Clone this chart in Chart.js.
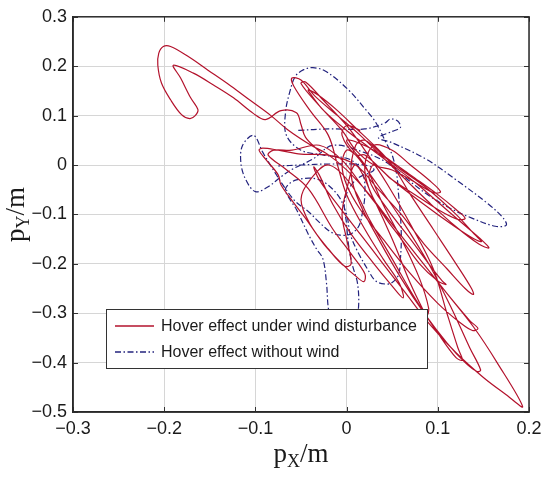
<!DOCTYPE html>
<html>
<head>
<meta charset="utf-8">
<script src="https://cdn.jsdelivr.net/npm/chart.js@4.4.0/dist/chart.umd.min.js"></script>
<style>html,body{margin:0;background:#fff}</style>
</head>
<body>
<canvas id="c" width="550" height="477"></canvas>
<script>
// axis ticks
const xTicks = [-0.3, -0.2, -0.1, 0, 0.1, 0.2];
const yTicks = [-0.5, -0.4, -0.3, -0.2, -0.1, 0, 0.1, 0.2, 0.3];

const seriesNames = ["Hover effect under wind disturbance", "Hover effect without wind"];

// trajectory under wind (x, y in m)
const windPath = [
  [-0.029,0.026],[-0.045,0.056],[-0.050,0.082],[-0.055,0.106],[-0.072,0.110],[-0.089,0.092],[-0.102,0.104],[-0.124,0.136],[-0.146,0.162],[-0.168,0.186],[-0.190,0.202],
  [-0.182,0.176],[-0.171,0.136],[-0.163,0.112],[-0.166,0.100],[-0.172,0.094],[-0.181,0.102],[-0.193,0.132],[-0.203,0.166],[-0.207,0.202],[-0.206,0.226],[-0.201,0.240],[-0.193,0.240],
  [-0.174,0.220],[-0.152,0.192],[-0.127,0.160],[-0.105,0.130],[-0.083,0.100],[-0.065,0.072],[-0.039,0.040],[-0.021,0.022],
  [0.0,-0.01],[0.025,-0.06],[0.05,-0.12],[0.08,-0.19],[0.11,-0.26],[0.14,-0.33],[0.165,-0.40],[0.193,-0.489],
  [0.175,-0.465],[0.15,-0.43],[0.12,-0.38],[0.09,-0.32],[0.065,-0.26],[0.04,-0.20],[0.015,-0.14],[-0.01,-0.08],[-0.03,-0.03],[-0.036,-0.004],
  [-0.03,-0.02],[-0.015,-0.08],[0.005,-0.14],[0.03,-0.20],[0.05,-0.245],[0.062,-0.269],[0.058,-0.24],[0.04,-0.19],[0.02,-0.13],[0.0,-0.06],[-0.01,0.0],[-0.02,0.06],
  [-0.04,0.11],[-0.058,0.160],[-0.060,0.176],[-0.050,0.172],[-0.035,0.14],[-0.01,0.10],[0.015,0.06],[0.04,0.015],[0.065,-0.03],[0.09,-0.075],[0.12,-0.125],[0.145,-0.16],[0.156,-0.168],[0.15,-0.155],[0.125,-0.115],[0.10,-0.075],[0.075,-0.035],[0.05,0.0],[0.025,0.035],
  [0.0,0.07],[-0.025,0.11],[-0.040,0.145],[-0.042,0.152],[-0.030,0.140],[-0.010,0.11],[0.01,0.075],[0.03,0.04],[0.05,0.0],[0.07,-0.06],[0.095,-0.13],[0.12,-0.20],[0.137,-0.25],[0.139,-0.262],[0.13,-0.25],[0.11,-0.21],[0.085,-0.16],[0.06,-0.10],[0.035,-0.05],[0.01,0.0],
  [-0.02,0.02],[-0.05,0.022],[-0.075,0.03],[-0.092,0.034],[-0.096,0.030],[-0.088,0.010],[-0.075,-0.02],[-0.072,-0.04],[-0.059,-0.074],[-0.045,-0.108],[-0.025,-0.16],[-0.005,-0.20],[0.01,-0.225],[0.019,-0.236],[0.02,-0.22],[0.005,-0.18],[-0.015,-0.13],[-0.042,-0.048],[-0.067,-0.008],[-0.086,0.020],[-0.08,0.03],[-0.06,0.03],
  [-0.03,0.04],[-0.005,0.01],[0.02,-0.05],[0.05,-0.12],[0.08,-0.19],[0.11,-0.26],[0.135,-0.315],[0.144,-0.331],[0.138,-0.335],[0.125,-0.32],[0.10,-0.28],[0.07,-0.22],[0.04,-0.15],[0.015,-0.09],[0.0,-0.04],[-0.005,0.0],
  [0.0,0.03],[0.01,0.02],[0.03,-0.03],[0.06,-0.11],[0.09,-0.20],[0.115,-0.29],[0.135,-0.37],[0.147,-0.415],[0.143,-0.418],[0.13,-0.40],[0.11,-0.36],[0.085,-0.30],[0.06,-0.23],[0.035,-0.15],[0.015,-0.08],[0.005,-0.02],[0.01,0.04],
  [0.02,0.05],[0.04,0.02],[0.07,-0.02],[0.1,-0.06],[0.12,-0.09],[0.13,-0.108],[0.122,-0.11],[0.10,-0.09],[0.075,-0.06],[0.05,-0.03],[0.03,0.0],
  [0.025,-0.03],[0.045,-0.09],[0.07,-0.15],[0.09,-0.20],[0.105,-0.235],[0.109,-0.242],[0.1,-0.235],[0.08,-0.20],[0.06,-0.15],[0.04,-0.10],[0.025,-0.05],[0.02,0.0],
  [0.03,0.04],[0.05,0.03],[0.07,0.0],[0.09,-0.03],[0.103,-0.054],[0.095,-0.056],[0.075,-0.035],[0.05,-0.01],[0.03,0.0],
  [0.01,0.03],[-0.005,0.07],[-0.03,0.12],[-0.05,0.165],[-0.045,0.168],[-0.025,0.13],[0.0,0.08],[0.02,0.03],[0.045,-0.04],[0.07,-0.12],[0.095,-0.21],[0.11,-0.30],[0.122,-0.37],[0.127,-0.395],[0.12,-0.39],[0.1,-0.34],[0.075,-0.27],[0.05,-0.19],[0.025,-0.11],[0.005,-0.04],
  [-0.02,0.0],[-0.04,-0.03],[-0.05,-0.07],[-0.04,-0.12],[-0.02,-0.17],[-0.002,-0.205],[0.005,-0.2],[0.0,-0.15],[-0.005,-0.1],[0.0,-0.05],
  [0.01,0.0],[0.03,-0.07],[0.05,-0.15],[0.07,-0.24],[0.083,-0.29],[0.088,-0.305],[0.09,-0.29],[0.08,-0.23],[0.06,-0.15],[0.04,-0.08],[0.02,0.0],
  [0.0,0.05],[0.03,0.03],[0.06,-0.01],[0.09,-0.05],[0.12,-0.1],[0.14,-0.14],[0.148,-0.155],[0.14,-0.15],[0.115,-0.12],[0.085,-0.08],[0.05,-0.03],[0.02,0.02],
  [0.01,0.02],[-0.005,0.06],[0.0,0.08],[0.015,0.07]
];

// trajectory without wind
const calmPath = [
  [-0.053,0.070],[-0.02,0.073],[0.02,0.073],[0.042,0.085],[0.048,0.093],[0.056,0.089],[0.059,0.076],[0.05,0.068],[0.035,0.055],
  [0.05,0.045],[0.087,0.012],[0.123,-0.034],[0.156,-0.080],[0.172,-0.108],[0.175,-0.122],[0.163,-0.124],[0.138,-0.108],[0.114,-0.088],[0.092,-0.064],[0.07,-0.034],[0.043,0.006],[0.02,0.025],[-0.015,0.040],
  [-0.037,0.012],[-0.059,-0.008],[-0.072,-0.024],[-0.086,-0.044],[-0.100,-0.054],[-0.111,-0.028],[-0.116,0.006],[-0.114,0.040],[-0.102,0.060],[-0.092,0.026],[-0.081,-0.008],[-0.067,-0.048],[-0.056,-0.074],[-0.042,-0.094],[-0.031,-0.114],[-0.018,-0.135],[-0.007,-0.142],[0.004,-0.14],[0.013,-0.125],[0.017,-0.10],[0.02,-0.06],[0.018,-0.02],[0.005,0.01],[-0.025,0.02],[-0.05,0.03],
  [-0.066,0.06],[-0.067,0.106],[-0.062,0.15],[-0.056,0.180],[-0.047,0.193],[-0.037,0.197],[-0.023,0.19],[0.002,0.152],[0.021,0.112],[0.032,0.086],[0.043,0.046],[0.05,0.02],[0.055,-0.02],[0.057,-0.06],[0.059,-0.10],[0.06,-0.15],[0.059,-0.19],[0.057,-0.222],[0.05,-0.238],[0.043,-0.241],[0.032,-0.235],[0.024,-0.214],[0.012,-0.175],[0.004,-0.14],
  [0.0,-0.10],[-0.01,-0.06],[-0.03,-0.03],[-0.055,-0.03],[-0.067,-0.048],[-0.062,-0.07],[-0.055,-0.09],[-0.042,-0.14],[-0.033,-0.17],[-0.026,-0.19],[-0.022,-0.24],[-0.02,-0.29],[-0.015,-0.33],[-0.003,-0.36],[0.008,-0.34],[0.013,-0.29],[0.012,-0.24],[0.006,-0.2],[0.002,-0.16],[0.0,-0.12],[-0.002,-0.07],[0.01,-0.03],[0.03,-0.01],
  [0.02,0.0],[-0.02,0.002],[-0.05,0.0],[-0.075,-0.002]
];

const fmt = v => Math.abs(v) < 1e-9 ? "0" : v.toFixed(1).replace("-", "\u2212");
const tickFont = { family: "'Liberation Sans', Arial, sans-serif", size: 18 };

const framePlugin = {
  id: "frame",
  afterDatasetsDraw(chart) {
    const { ctx, chartArea: a, scales } = chart;
    ctx.save();
    // inward tick marks
    ctx.strokeStyle = "#333";
    ctx.lineWidth = 1;
    yTicks.forEach(v => {
      const y = Math.round(scales.y.getPixelForValue(v)) + 0.5;
      ctx.beginPath(); ctx.moveTo(a.right - 5, y); ctx.lineTo(a.right, y); ctx.stroke();
      ctx.beginPath(); ctx.moveTo(a.left, y); ctx.lineTo(a.left + 5, y); ctx.stroke();
    });
    xTicks.forEach(v => {
      const x = Math.round(scales.x.getPixelForValue(v)) + 0.5;
      ctx.beginPath(); ctx.moveTo(x, a.bottom - 5); ctx.lineTo(x, a.bottom); ctx.stroke();
      ctx.beginPath(); ctx.moveTo(x, a.top); ctx.lineTo(x, a.top + 5); ctx.stroke();
    });
    // box
    ctx.lineWidth = 1.5;
    ctx.strokeStyle = "#2a2a2a";
    ctx.strokeRect(a.left, a.top, a.right - a.left, a.bottom - a.top);

    // legend
    const lx = 106.5, ly = 309.5, lw = 321, lh = 59;
    ctx.fillStyle = "#fff";
    ctx.fillRect(lx, ly, lw, lh);
    ctx.lineWidth = 1;
    ctx.strokeStyle = "#333";
    ctx.strokeRect(lx, ly, lw, lh);
    const ds = chart.data.datasets;
    [326, 352].forEach((y, i) => {
      ctx.strokeStyle = ds[i].borderColor;
      ctx.lineWidth = 1.4;
      ctx.setLineDash(ds[i].borderDash || []);
      ctx.beginPath(); ctx.moveTo(115, y); ctx.lineTo(154, y); ctx.stroke();
      ctx.setLineDash([]);
      ctx.fillStyle = "#1a1a1a";
      ctx.font = "16px 'Liberation Sans', Arial, sans-serif";
      ctx.textBaseline = "middle";
      ctx.textAlign = "left";
      ctx.fillText(ds[i].label, 161, y + 1);
    });

    // axis titles with subscripts
    const drawTitle = (sub) => {
      ctx.fillStyle = "#1a1a1a";
      ctx.textBaseline = "alphabetic";
      ctx.textAlign = "left";
      const big = "27px 'Liberation Serif', 'Times New Roman', serif";
      const small = "18px 'Liberation Serif', 'Times New Roman', serif";
      ctx.font = big; const w1 = ctx.measureText("p").width;
      ctx.font = small; const w2 = ctx.measureText(sub).width;
      ctx.font = big; const w3 = ctx.measureText("/m").width;
      let x = -(w1 + w2 + w3) / 2;
      ctx.font = big; ctx.fillText("p", x, 0); x += w1;
      ctx.font = small; ctx.fillText(sub, x, 5); x += w2;
      ctx.font = big; ctx.fillText("/m", x, 0);
    };
    ctx.save();
    ctx.translate((a.left + a.right) / 2, 462);
    drawTitle("X");
    ctx.restore();
    ctx.save();
    ctx.translate(24, (a.top + a.bottom) / 2);
    ctx.rotate(-Math.PI / 2);
    drawTitle("Y");
    ctx.restore();
    ctx.restore();
  }
};

const toPts = p => p.map(([x, y]) => ({ x, y }));

new Chart(document.getElementById("c"), {
  type: "scatter",
  data: {
    datasets: [
      {
        label: seriesNames[0],
        data: toPts(windPath),
        showLine: true,
        borderColor: "#b3122c",
        borderWidth: 1.2,
        pointRadius: 0,
        tension: 0.35,
      },
      {
        label: seriesNames[1],
        data: toPts(calmPath),
        showLine: true,
        borderColor: "#23237e",
        borderWidth: 1.2,
        borderDash: [6, 2.5, 1.5, 2.5],
        pointRadius: 0,
        tension: 0.35,
      },
    ],
  },
  options: {
    responsive: false,
    animation: false,
    layout: { padding: { top: 13, right: 21, left: 0, bottom: 0 } },
    plugins: { legend: { display: false }, tooltip: { enabled: false } },
    scales: {
      x: {
        type: "linear",
        min: -0.3,
        max: 0.2,
        afterBuildTicks: s => { s.ticks = xTicks.map(v => ({ value: v })); },
        afterFit: s => { s.height = 65; },
        grid: { color: "#d6d6d6", drawTicks: false },
        border: { color: "#2a2a2a", width: 1.5 },
        ticks: { padding: 6, color: "#1a1a1a", font: tickFont, callback: fmt },
      },
      y: {
        type: "linear",
        min: -0.5,
        max: 0.3,
        afterBuildTicks: s => { s.ticks = yTicks.map(v => ({ value: v })); },
        afterFit: s => { s.width = 73; },
        grid: { color: "#d6d6d6", drawTicks: false },
        border: { color: "#2a2a2a", width: 1.5 },
        ticks: { padding: 6, color: "#1a1a1a", font: tickFont, callback: fmt },
      },
    },
  },
  plugins: [framePlugin],
});
</script>
</body>
</html>
